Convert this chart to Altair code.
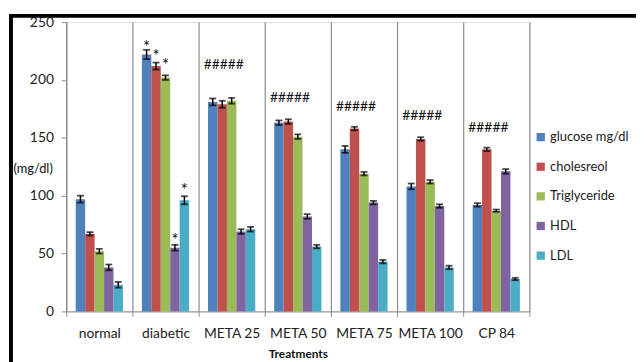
import altair as alt
import pandas as pd

categories = ["normal", "diabetic", "META 25", "META 50", "META 75", "META 100", "CP 84"]
series = ["glucose mg/dl", "cholesreol", "Triglyceride", "HDL", "LDL"]
colors = ["#4F81BD", "#C0504D", "#9BBB59", "#8064A2", "#4BACC6"]

glucose = [97, 222, 181, 163, 140, 108, 92]
cholesterol = [67, 212, 179, 164, 158, 149, 140]
triglyceride = [52, 202, 182, 151, 119, 112, 87]
hdl = [38, 55, 69, 82, 94, 91, 121]
ldl = [23, 96, 71, 56, 43, 38, 28]

glucose_err = [3, 4, 3, 2, 3, 2.5, 1.5]
cholesterol_err = [1.5, 3, 3, 2, 1.5, 1.5, 1.5]
triglyceride_err = [2, 2, 2.5, 2, 1.5, 1.5, 1]
hdl_err = [2.5, 2.5, 2, 2, 1.5, 1.5, 2]
ldl_err = [2.5, 3.5, 2, 1.5, 1.5, 1.5, 1]

star_y = [231, 223, 215, 64, 107]
hash_cats = ["META 25", "META 50", "META 75", "META 100", "CP 84"]
hash_y = [213, 184, 177, 169, 158]

vals = [glucose, cholesterol, triglyceride, hdl, ldl]
errs = [glucose_err, cholesterol_err, triglyceride_err, hdl_err, ldl_err]
rows = []
for s, v, e in zip(series, vals, errs):
    for c, vi, ei in zip(categories, v, e):
        rows.append({"cat": c, "series": s, "value": vi, "lo": vi - ei, "hi": vi + ei})
df = pd.DataFrame(rows)
stars = pd.DataFrame({"cat": ["diabetic"] * 5, "series": series, "y": star_y, "t": ["*"] * 5})
hashes = pd.DataFrame({"cat": hash_cats, "y": hash_y, "t": ["#####"] * 5})

FONT = "Lato"
GRAY = "#8c8c8c"

x = alt.X("cat:N", sort=categories,
          scale=alt.Scale(paddingInner=0, paddingOuter=0),
          axis=alt.Axis(title="Treatments", labelAngle=0, tickBand="extent", grid=True,
                        gridColor=GRAY, gridWidth=1.2, domainColor=GRAY, tickColor=GRAY,
                        tickSize=5, labelPadding=10, labelFontSize=14, labelColor="#222",
                        titleFontSize=12, titleFontWeight="bold", titleColor="#111",
                        titlePadding=9, labelFont=FONT, titleFont=FONT))
xo = alt.XOffset("series:N", sort=series, scale=alt.Scale(paddingInner=0, paddingOuter=1))
y = alt.Y("value:Q", scale=alt.Scale(domain=[0, 250], nice=False),
          axis=alt.Axis(title="(mg/dl)", values=[0, 50, 100, 150, 200, 250], grid=False,
                        domainColor=GRAY, tickColor=GRAY, tickSize=5, labelPadding=8,
                        labelFontSize=14, labelColor="#222", labelFont=FONT,
                        titleAngle=0, titleX=-54, titleY=148, titleAlign="left",
                        titleBaseline="middle", titleFontWeight="normal", titleFontSize=13,
                        titleColor="#111", titleFont=FONT))

base = alt.Chart(df)
bars = base.mark_bar().encode(
    x=x, xOffset=xo, y=y,
    color=alt.Color("series:N", sort=series, scale=alt.Scale(domain=series, range=colors),
                    legend=alt.Legend(title=None, orient="none", legendX=474, legendY=110,
                                      symbolType="square", symbolSize=70, symbolStrokeWidth=0,
                                      labelFontSize=13, labelFont=FONT, labelColor="#222",
                                      rowPadding=16, labelOffset=3)))
rule = base.mark_rule(color="black", strokeWidth=1.5).encode(
    x=alt.X("cat:N", sort=categories), xOffset=alt.XOffset("series:N", sort=series),
    y="lo:Q", y2="hi:Q")
tick_hi = base.mark_tick(color="black", orient="horizontal", size=7, thickness=1.8).encode(
    x=alt.X("cat:N", sort=categories), xOffset=alt.XOffset("series:N", sort=series), y="hi:Q")
tick_lo = base.mark_tick(color="black", orient="horizontal", size=7, thickness=1.8).encode(
    x=alt.X("cat:N", sort=categories), xOffset=alt.XOffset("series:N", sort=series), y="lo:Q")
star_txt = alt.Chart(stars).mark_text(fontSize=17, font=FONT, color="#111", baseline="middle", dy=4).encode(
    x=alt.X("cat:N", sort=categories), xOffset=alt.XOffset("series:N", sort=series),
    y="y:Q", text="t:N")
hash_txt = alt.Chart(hashes).mark_text(fontSize=14, font=FONT, color="#111", baseline="middle", dx=-8).encode(
    x=alt.X("cat:N", sort=categories), y="y:Q", text="t:N")
border = alt.Chart(hashes).mark_rect(fill=None, stroke="black", strokeWidth=3).encode(
    x=alt.value(-56), x2=alt.value(700), y=alt.value(-6.5), y2=alt.value(450))

chart = alt.layer(bars, rule, tick_hi, tick_lo, star_txt, hash_txt, border).properties(
    width=469, height=293,
    autosize=alt.AutoSizeParams(type="none"),
    padding={"left": 59, "top": 12, "right": 108, "bottom": 49},
).configure_view(stroke=None).configure(font=FONT)

chart.save("out.html", embed_options={"renderer": "svg", "actions": False})
